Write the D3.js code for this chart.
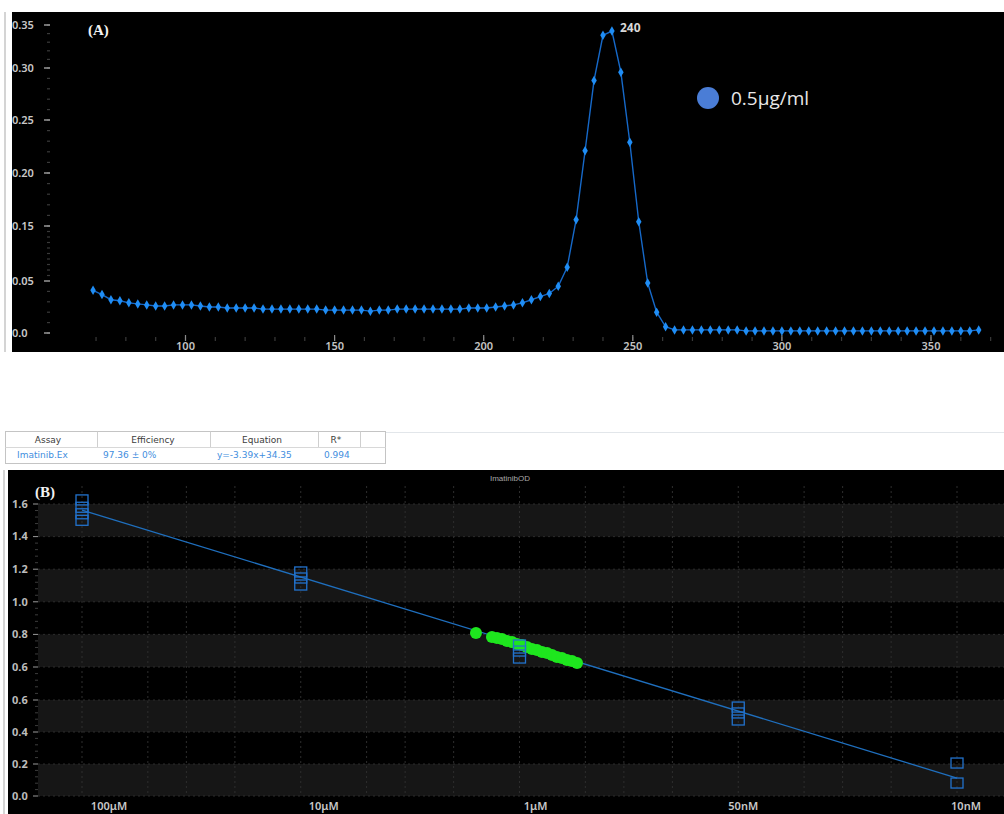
<!DOCTYPE html>
<html>
<head>
<meta charset="utf-8">
<script src="https://cdn.jsdelivr.net/npm/d3@7"></script>
<style>
  html, body { margin: 0; padding: 0; background: #fff; }
  svg { display: block; }
</style>
</head>
<body>
<svg id="chart" width="1004" height="814"></svg>
<script>
// ---------- Panel A: UV absorbance spectrum ----------
const wavelengths = [
  69, 72, 75, 78, 81, 84, 87, 90, 93, 96,
  99, 102, 105, 108, 111, 114, 117, 120, 123, 126,
  129, 132, 135, 138, 141, 144, 147, 150, 153, 156,
  159, 162, 165, 168, 171, 174, 177, 180, 183, 186,
  189, 192, 195, 198, 201, 204, 207, 210, 213, 216,
  219, 222, 225, 228, 231, 234, 237, 240, 243, 246,
  249, 252, 255, 258, 261, 264, 267, 270, 273, 276,
  279, 282, 285, 288, 291, 294, 297, 300, 303, 306,
  309, 312, 315, 318, 321, 324, 327, 330, 333, 336,
  339, 342, 345, 348, 351, 354, 357, 360, 363, 366
];
const absorbance = [
  0.041, 0.037, 0.032, 0.031, 0.029, 0.028, 0.027, 0.026, 0.026, 0.027,
  0.027, 0.027, 0.026, 0.025, 0.025, 0.024, 0.024, 0.024, 0.024, 0.023,
  0.023, 0.023, 0.023, 0.023, 0.023, 0.023, 0.022, 0.022, 0.022, 0.022,
  0.022, 0.021, 0.022, 0.022, 0.023, 0.023, 0.023, 0.023, 0.023, 0.023,
  0.023, 0.023, 0.024, 0.024, 0.024, 0.025, 0.026, 0.027, 0.029, 0.032,
  0.035, 0.038, 0.045, 0.075, 0.156, 0.221, 0.288, 0.338, 0.343, 0.296,
  0.229, 0.154, 0.048, 0.020, 0.006, 0.003, 0.003, 0.003, 0.003, 0.003,
  0.003, 0.003, 0.003, 0.002, 0.002, 0.002, 0.002, 0.002, 0.002, 0.002,
  0.002, 0.002, 0.002, 0.002, 0.002, 0.002, 0.002, 0.002, 0.002, 0.002,
  0.002, 0.002, 0.002, 0.002, 0.002, 0.002, 0.002, 0.002, 0.002, 0.003
];
const peakWavelength = 240;
const specTicksY = [0, 0.05, 0.15, 0.2, 0.25, 0.3, 0.35];
const specTicksX = [100, 150, 200, 250, 300, 350];
const legendLabel = "0.5μg/ml";

// ---------- Panel B: standard curve ----------
const stdLabels = ["100μM", "10μM", "1μM", "50nM", "10nM"];
const stdStep = [0, 0, 0, 0, 1, 1, 1, 2, 2, 2, 3, 3, 3, 4, 4];
const stdOD = [1.625, 1.58, 1.54, 1.50, 1.183, 1.146, 1.103, 0.735, 0.698, 0.655, 0.556, 0.519, 0.475, 0.206, 0.081];
const sampleStep = [1.801, 1.874, 1.897, 1.920, 1.943, 1.966, 1.989, 2.011, 2.034, 2.057,
                    2.080, 2.103, 2.126, 2.149, 2.171, 2.194, 2.217, 2.240, 2.263];
const sampleOD = [0.809, 0.784, 0.778, 0.772, 0.759, 0.753, 0.741, 0.735, 0.723, 0.710,
                  0.704, 0.692, 0.686, 0.674, 0.661, 0.655, 0.643, 0.637, 0.625];
const fitStep = [0, 4];
const fitOD = [1.563, 0.112];
const odTicks = [0, 0.2, 0.4, 0.6, 0.6, 0.8, 1.0, 1.2, 1.4, 1.6];
const tableHeader = ["Assay", "Efficiency", "Equation", "R*"];
const tableRow = ["Imatinib.Ex", "97.36 ± 0%", "y=-3.39x+34.35", "0.994"];
const plotTitle = "ImatinibOD";

const svg = d3.select("#chart");
const tickFont = "'Noto Sans', 'DejaVu Sans', sans-serif";

// ===== Panel A =====
const gA = svg.append("g");
gA.append("rect").attr("x", 12).attr("y", 12).attr("width", 992).attr("height", 340).attr("fill", "#000");
gA.append("line").attr("x1", 5).attr("x2", 5).attr("y1", 12).attr("y2", 352)
  .attr("stroke", "#d4d4d4").attr("stroke-width", 2);

const xA = d3.scaleLinear().domain([100, 350]).range([185.5, 931]);
// the value axis is not evenly spaced on this instrument print-out
const yA = d3.scaleLinear()
  .domain([0, 0.05, 0.15, 0.2, 0.25, 0.3, 0.35])
  .range([333, 281, 226, 173, 120, 68, 25]);

// minor y ticks
const minorA = d3.range(0, 0.351, 0.01).filter(v => v < 0.05 || v > 0.0501);
gA.selectAll(".minA").data(minorA).join("line")
  .attr("x1", 47).attr("x2", 50)
  .attr("y1", d => yA(d)).attr("y2", d => yA(d))
  .attr("stroke", "#3a3a3a").attr("stroke-width", 1.2);

const yAxisA = gA.selectAll(".ytA").data(specTicksY).join("g")
  .attr("transform", d => `translate(0,${yA(d)})`);
yAxisA.append("text").attr("x", 12).attr("dy", "0.35em")
  .attr("font-family", tickFont).attr("font-size", 11).attr("font-weight", 600)
  .attr("fill", "#c9c9c9").text(d => d === 0 ? "0.0" : d3.format(".2f")(d));
yAxisA.append("line").attr("x1", 44).attr("x2", 50)
  .attr("stroke", "#bdbdbd").attr("stroke-width", 1.2);

// x ticks
const minorXA = d3.range(70, 371, 10);
gA.selectAll(".mxA").data(minorXA).join("line")
  .attr("x1", d => xA(d)).attr("x2", d => xA(d))
  .attr("y1", 337).attr("y2", 341)
  .attr("stroke", "#3a3a3a").attr("stroke-width", 1.2);
gA.selectAll(".xtA").data(specTicksX).join("line")
  .attr("x1", d => xA(d)).attr("x2", d => xA(d))
  .attr("y1", 335).attr("y2", 341)
  .attr("stroke", "#8a8a8a").attr("stroke-width", 1.2);
gA.selectAll(".xlA").data(specTicksX).join("text")
  .attr("x", d => xA(d)).attr("y", 350).attr("text-anchor", "middle")
  .attr("font-family", tickFont).attr("font-size", 11).attr("font-weight", 600)
  .attr("fill", "#c4c4c4").text(d => d);

const specData = wavelengths.map((w, i) => ({ w, a: absorbance[i] }));
gA.append("path").datum(specData)
  .attr("d", d3.line().x(d => xA(d.w)).y(d => yA(d.a)))
  .attr("fill", "none").attr("stroke", "#1669c9").attr("stroke-width", 1.4);
gA.selectAll(".pt").data(specData).join("path")
  .attr("transform", d => `translate(${xA(d.w)},${yA(d.a)})`)
  .attr("d", d3.symbol(d3.symbolDiamond, 26))
  .attr("fill", "#1f8df5");

const peak = specData.find(d => d.w === peakWavelength);
gA.append("text").attr("x", xA(peak.w) + 17).attr("y", yA(peak.a) - 3)
  .attr("font-family", tickFont).attr("font-size", 12).attr("font-weight", 700)
  .attr("fill", "#d8d8d8").text(peak.w);

gA.append("text").attr("x", 88).attr("y", 35)
  .attr("font-family", "'Liberation Serif', serif").attr("font-size", 15).attr("font-weight", 700)
  .attr("fill", "#f2f2f2").text("(A)");

gA.append("circle").attr("cx", 708).attr("cy", 98).attr("r", 11).attr("fill", "#4a7dd6");
gA.append("text").attr("x", 731).attr("y", 105)
  .attr("font-family", "'Open Sans', sans-serif").attr("font-size", 19)
  .attr("fill", "#e8e8e8").text(legendLabel);

// ===== Results table =====
const gT = svg.append("g").attr("font-family", "'DejaVu Sans', Verdana, sans-serif").attr("font-size", 9);
gT.append("line").attr("x1", 385).attr("x2", 1004).attr("y1", 432.5).attr("y2", 432.5)
  .attr("stroke", "#e2e6ea");
gT.append("rect").attr("x", 5.5).attr("y", 431.5).attr("width", 380).attr("height", 32)
  .attr("fill", "#fff").attr("stroke", "#c4c4c4");
const colEdges = [97.5, 210.5, 318.5, 360.5];
gT.selectAll(".cs").data(colEdges).join("line")
  .attr("x1", d => d).attr("x2", d => d).attr("y1", 431.5).attr("y2", 447.5)
  .attr("stroke", "#cfcfcf");
gT.append("line").attr("x1", 5.5).attr("x2", 385.5).attr("y1", 447.5).attr("y2", 447.5).attr("stroke", "#d8d8d8");
const colCenters = [48, 153, 262, 336];
gT.selectAll(".th").data(tableHeader).join("text")
  .attr("x", (d, i) => colCenters[i]).attr("y", 443).attr("text-anchor", "middle")
  .attr("fill", "#3c3c3c").text(d => d);
const rowStarts = [17, 103, 217, 324];
gT.selectAll(".td").data(tableRow).join("text")
  .attr("x", (d, i) => rowStarts[i]).attr("y", 458)
  .attr("fill", "#3f8ede").text(d => d);

// ===== Panel B =====
const gB = svg.append("g");
gB.append("rect").attr("x", 8).attr("y", 470).attr("width", 996).attr("height", 344).attr("fill", "#000");
gB.append("line").attr("x1", 4).attr("x2", 4).attr("y1", 470).attr("y2", 814)
  .attr("stroke", "#d4d4d4").attr("stroke-width", 2);

const xB = d3.scaleLinear().domain([0, 4]).range([82, 957]);
// broken value axis: the 0.6 level appears twice on the printed scale
const yB = d3.scaleLinear().domain([0, 0.6, 0.6, 1.6]).range([796, 700, 667, 504]);
const tickPos = odTicks.map((v, i) => (i === 3 ? 700 : yB(v)));

// alternating bands between gridlines
const bands = d3.range(0, tickPos.length - 1).filter(i => i % 2 === 0);
gB.selectAll(".band").data(bands).join("rect")
  .attr("x", 38).attr("width", 966)
  .attr("y", i => tickPos[i + 1]).attr("height", i => tickPos[i] - tickPos[i + 1])
  .attr("fill", "#161616");

gB.selectAll(".hg").data(tickPos).join("line")
  .attr("x1", 38).attr("x2", 1004).attr("y1", d => d).attr("y2", d => d)
  .attr("stroke", "#2c2c2c").attr("stroke-dasharray", "2,3");

// log gridlines: each dilution decade plus its 1/2, 1/3 and 1/5 points
const vGrid = [];
for (let d = 0; d <= 4; d++) {
  vGrid.push(d);
  if (d < 4) [2, 3, 5].forEach(m => vGrid.push(d + Math.log10(m)));
}
gB.selectAll(".vg").data(vGrid).join("line")
  .attr("x1", d => xB(d)).attr("x2", d => xB(d)).attr("y1", 486).attr("y2", 796)
  .attr("stroke", "#2e2e2e").attr("stroke-dasharray", "2,3");

// y axis
const minorB = [];
for (let i = 0; i < tickPos.length - 1; i++) {
  for (let k = 1; k < 5; k++) minorB.push(tickPos[i] + (tickPos[i + 1] - tickPos[i]) * k / 5);
}
gB.selectAll(".mb").data(minorB).join("line")
  .attr("x1", 35).attr("x2", 38).attr("y1", d => d).attr("y2", d => d)
  .attr("stroke", "#3c3c3c");
gB.selectAll(".yl").data(odTicks).join("text")
  .attr("x", 12).attr("y", (d, i) => tickPos[i]).attr("dy", "0.35em")
  .attr("font-family", tickFont).attr("font-size", 11).attr("font-weight", 700)
  .attr("fill", "#bcbcbc").text(d => d3.format(".1f")(d));
gB.selectAll(".yt").data(tickPos).join("line")
  .attr("x1", 33).attr("x2", 38).attr("y1", d => d).attr("y2", d => d)
  .attr("stroke", "#9a9a9a");

// concentration labels sit slightly right of each standard
const labelShift = [27, 23, 16, 5, 9];
gB.selectAll(".xl").data(stdLabels).join("text")
  .attr("x", (d, i) => xB(i) + labelShift[i]).attr("y", 810).attr("text-anchor", "middle")
  .attr("font-family", tickFont).attr("font-size", 11).attr("font-weight", 600)
  .attr("fill", "#c8c8c8").text(d => d);

gB.append("text").attr("x", 510).attr("y", 481).attr("text-anchor", "middle")
  .attr("font-family", "'Liberation Sans', Arial, sans-serif").attr("font-size", 8)
  .attr("fill", "#a8a8a8").text(plotTitle);

gB.append("text").attr("x", 35).attr("y", 497)
  .attr("font-family", "'Liberation Serif', serif").attr("font-size", 15).attr("font-weight", 700)
  .attr("fill", "#f2f2f2").text("(B)");

// regression line
gB.append("line")
  .attr("x1", xB(fitStep[0])).attr("y1", yB(fitOD[0]))
  .attr("x2", xB(fitStep[1])).attr("y2", yB(fitOD[1]))
  .attr("stroke", "#1f6fbe").attr("stroke-width", 1.3);

// unknown samples
gB.selectAll(".smp").data(sampleStep).join("circle")
  .attr("cx", d => xB(d)).attr("cy", (d, i) => yB(sampleOD[i])).attr("r", 6)
  .attr("fill", "#1ee61e");

// standards
gB.selectAll(".std").data(stdStep).join("rect")
  .attr("x", d => xB(d) - 6).attr("y", (d, i) => yB(stdOD[i]) - 5)
  .attr("width", 12).attr("height", 10)
  .attr("fill", "none").attr("stroke", "#2272cc").attr("stroke-width", 1.3);
</script>
</body>
</html>
